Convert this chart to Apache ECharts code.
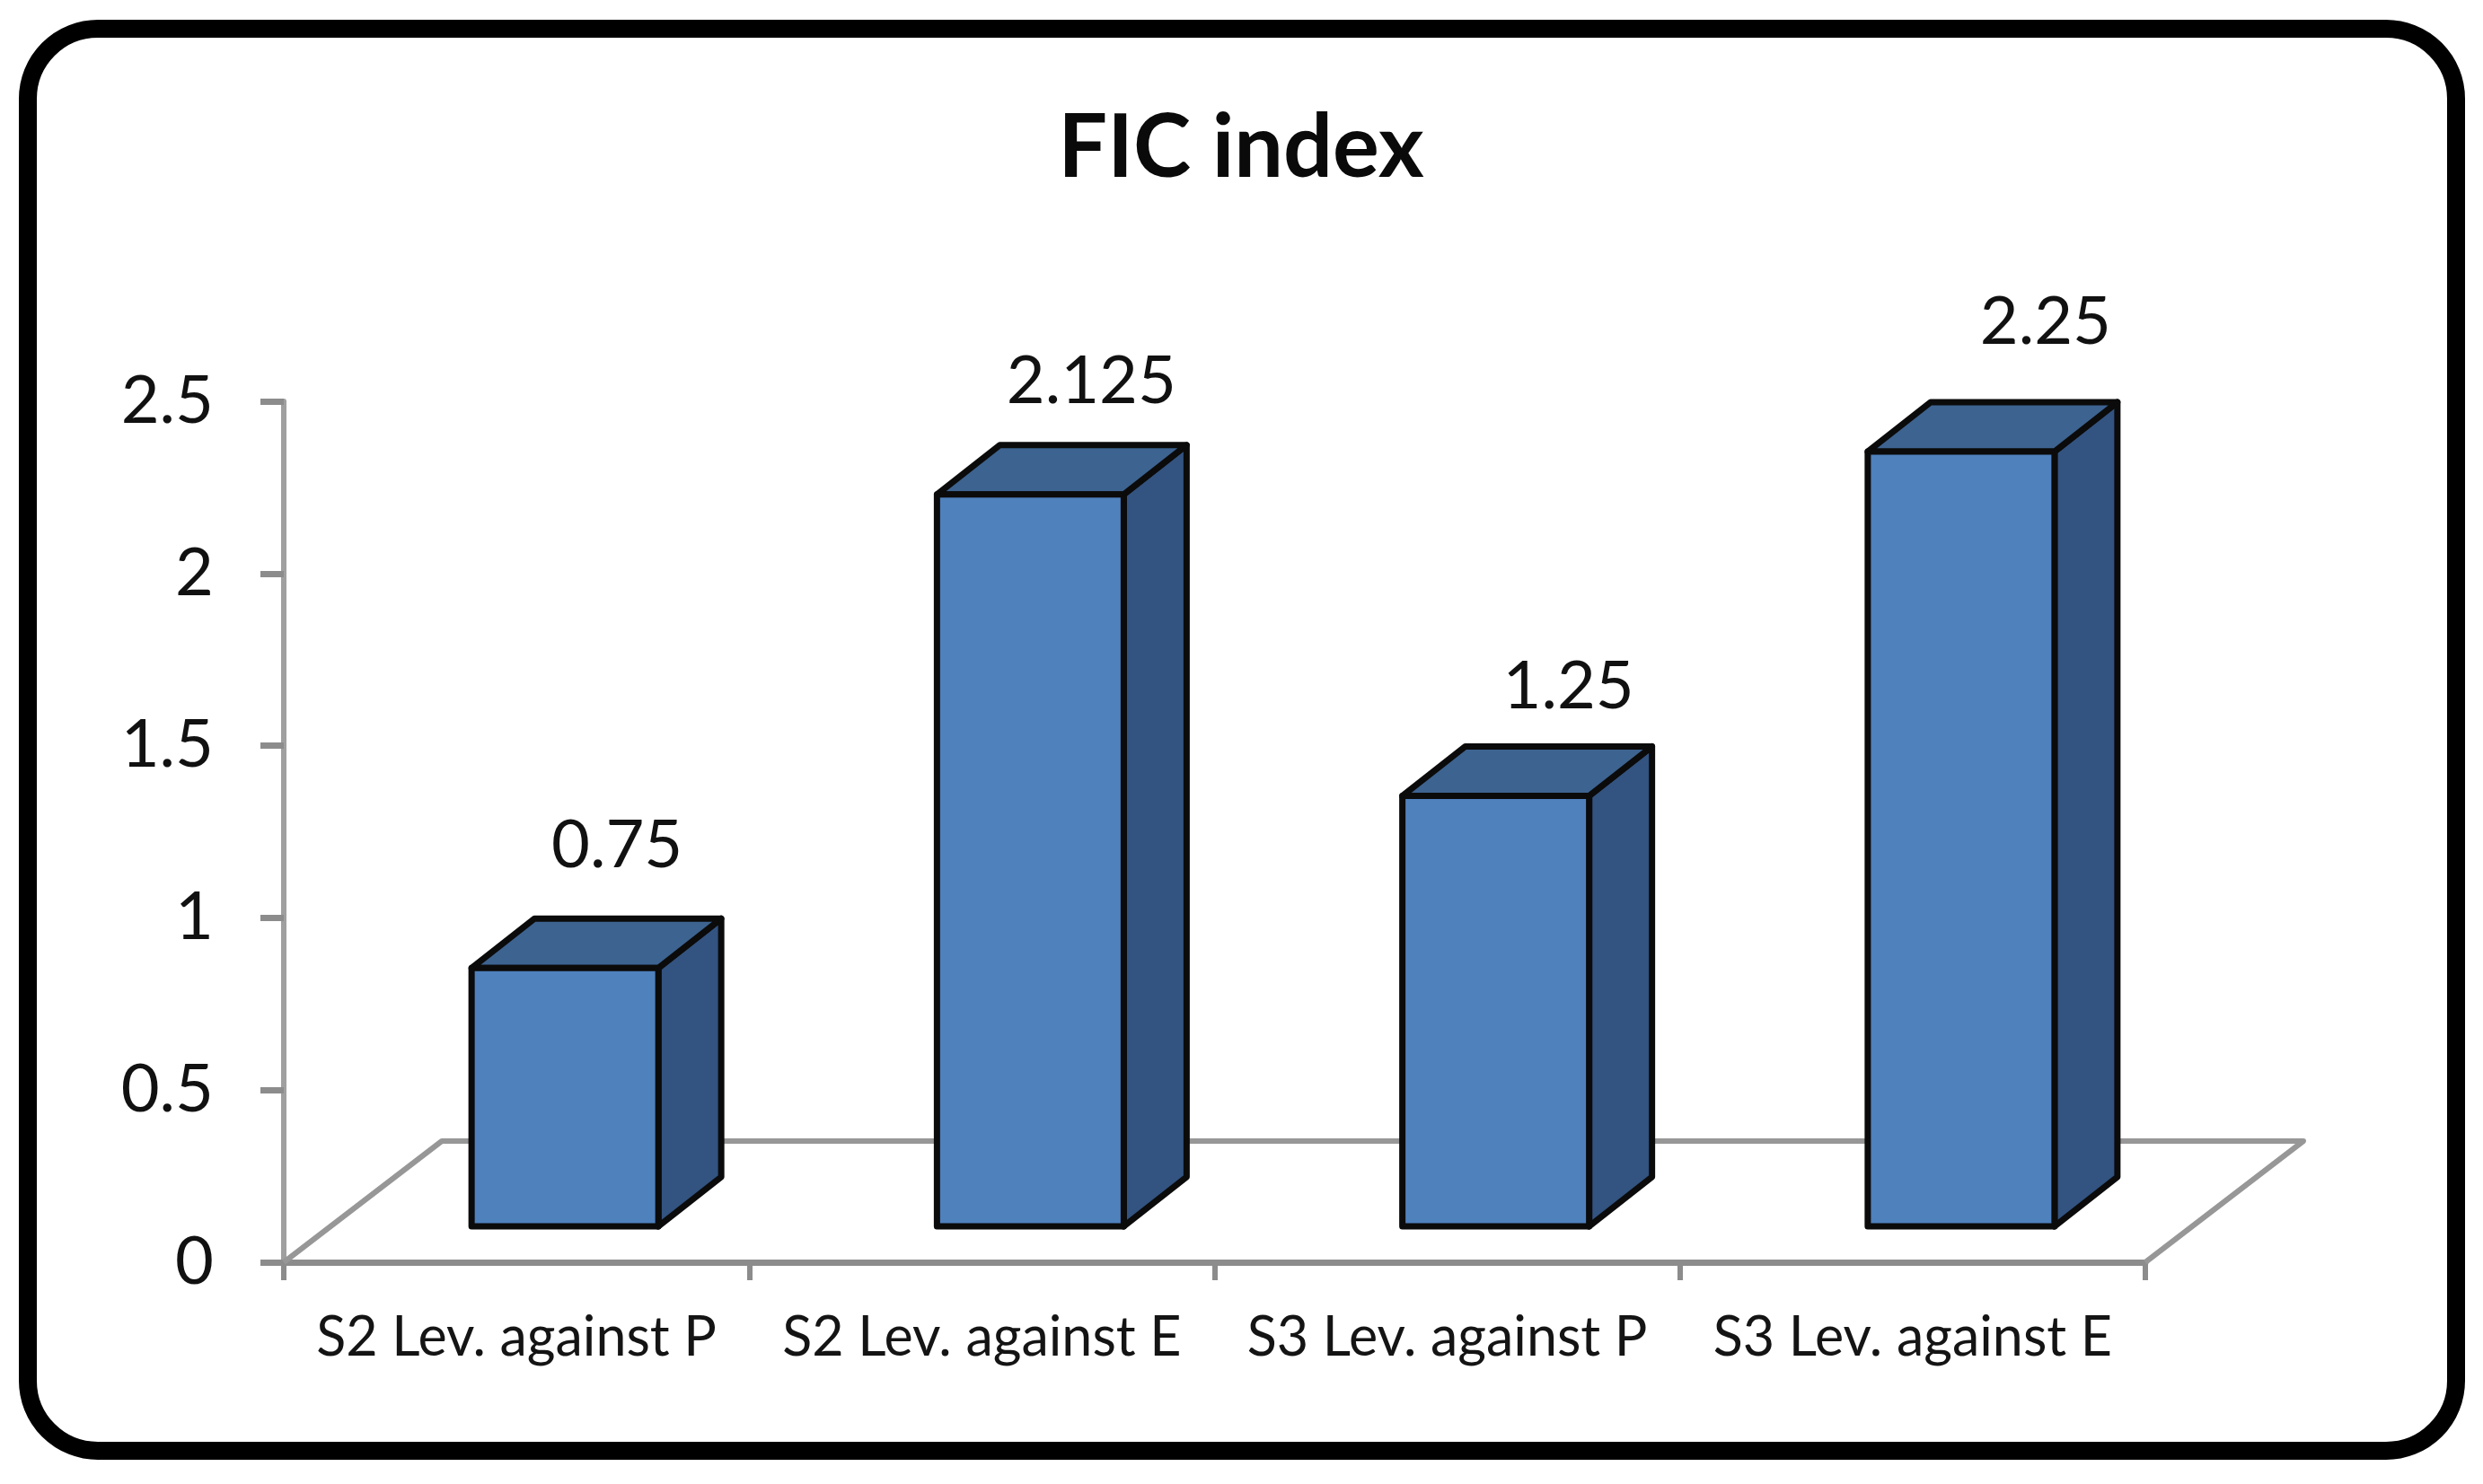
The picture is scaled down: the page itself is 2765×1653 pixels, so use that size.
<!DOCTYPE html>
<html>
<head>
<meta charset="utf-8">
<style>html,body{margin:0;padding:0;background:#fff}#c{width:2765px;height:1653px}</style>
<script src="https://cdn.jsdelivr.net/npm/echarts@6/dist/echarts.min.js"></script>
</head>
<body>
<div id="c"></div>
<script>
const categories = ['S2 Lev. against P', 'S2 Lev. against E', 'S3 Lev. against P', 'S3 Lev. against E'];
const values = [0.75, 2.125, 1.25, 2.25];
const labelTexts = ['0.75', '2.125', '1.25', '2.25'];

// hand-placed label nudges of the original chart, relative to each bar's front-top centre
const labelDX = [58, 68, 81, 94];
const labelDY = [136, 126, 121, 144];

const FONT = 'Lato';
const DEPTH_X = 70, DEPTH_Y = 55, BAR_W = 208, BAR_DX = 54, BAR_LIFT = 40;
const FLOOR_X = 176, FLOOR_Y = 135;

const chart = echarts.init(document.getElementById('c'), null, {renderer: 'canvas'});

function renderFloor(params, api) {
  const g = params.coordSys;
  const x0 = g.x, x1 = g.x + g.width, y = g.y + g.height;
  return {
    type: 'polyline',
    silent: true,
    shape: {points: [[x0, y], [x0 + FLOOR_X, y - FLOOR_Y], [x1 + FLOOR_X, y - FLOOR_Y], [x1, y]]},
    style: {fill: null, stroke: '#979797', lineWidth: 6, lineJoin: 'round'}
  };
}

function renderBar(params, api) {
  const i = api.value(0);
  const top = api.coord([i, api.value(1)]);
  const base = api.coord([i, 0]);
  const l = top[0] + BAR_DX - BAR_W / 2, r = l + BAR_W;
  const t = top[1] - BAR_LIFT, b = base[1] - BAR_LIFT;
  const edge = {stroke: '#0b0b0b', lineWidth: 7, lineJoin: 'round'};
  return {
    type: 'group',
    children: [
      {type: 'polygon', shape: {points: [[r, t], [r + DEPTH_X, t - DEPTH_Y], [r + DEPTH_X, b - DEPTH_Y], [r, b]]},
       style: Object.assign({fill: '#335380'}, edge)},
      {type: 'polygon', shape: {points: [[l, t], [l + DEPTH_X, t - DEPTH_Y], [r + DEPTH_X, t - DEPTH_Y], [r, t]]},
       style: Object.assign({fill: '#3d6390'}, edge)},
      {type: 'rect', shape: {x: l, y: t, width: BAR_W, height: b - t},
       style: Object.assign({fill: '#4f81bd'}, edge)},
      {type: 'text', style: {
        x: l + BAR_W / 2 + labelDX[i], y: t - labelDY[i], text: labelTexts[i],
        fill: '#111', font: '74px ' + FONT, align: 'center', verticalAlign: 'middle'
      }}
    ]
  };
}

chart.setOption({
  animation: false,
  backgroundColor: '#fff',
  title: {
    text: 'FIC index', left: 1377, top: 112, textAlign: 'center',
    textStyle: {fontFamily: FONT, fontWeight: 'bold', fontSize: 97, color: '#0a0a0a'}
  },
  graphic: [{
    type: 'rect', silent: true, z: -10,
    shape: {x: 31, y: 32, width: 2704, height: 1584, r: 78},
    style: {fill: '#fff', stroke: '#000', lineWidth: 20}
  }],
  grid: {left: 316, right: 376, top: 447, bottom: 247},
  xAxis: {
    type: 'category', data: categories,
    axisLine: {show: true, lineStyle: {color: '#8c8c8c', width: 7}},
    axisTick: {show: true, length: 20, lineStyle: {color: '#8c8c8c', width: 6}},
    axisLabel: {color: '#141414', fontFamily: FONT, fontSize: 61, margin: 54, interval: 0},
    splitLine: {show: false}
  },
  yAxis: {
    type: 'value', min: 0, max: 2.5, interval: 0.5,
    axisLine: {show: true, lineStyle: {color: '#a0a0a0', width: 6}},
    axisTick: {show: true, length: 26, lineStyle: {color: '#8c8c8c', width: 7}},
    axisLabel: {color: '#111', fontFamily: FONT, fontSize: 74, margin: 78, padding: [16, 0, 0, 0],
      formatter: v => String(v)},
    splitLine: {show: false}
  },
  series: [
    {type: 'custom', name: 'floor', coordinateSystem: 'cartesian2d', z: 1, silent: true,
     clip: false, renderItem: renderFloor, data: [[0, 0]], encode: {x: 0, y: 1}},
    {type: 'custom', name: 'FIC index', coordinateSystem: 'cartesian2d', z: 3,
     clip: false, renderItem: renderBar, encode: {x: 0, y: 1},
     data: values.map((v, i) => [i, v])}
  ]
});
</script>
</body>
</html>
